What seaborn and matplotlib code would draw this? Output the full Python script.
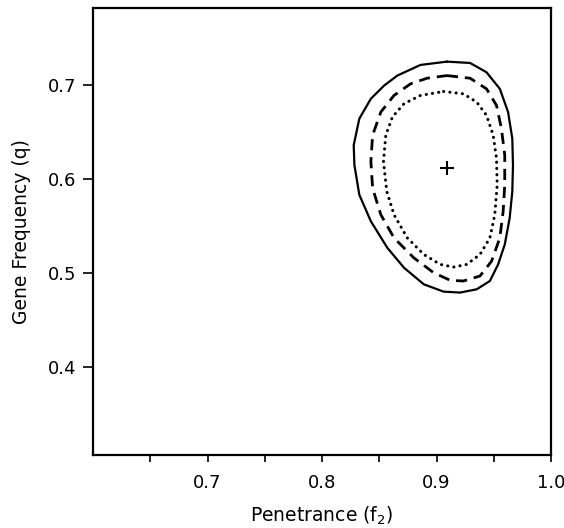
import pandas as pd
import matplotlib
matplotlib.use('Agg')
import matplotlib.pyplot as plt
import seaborn as sns

# Contour points (penetrance f2, gene frequency q)
solid_f2 = [0.9091, 0.9293, 0.9437, 0.9553, 0.9625, 0.9662, 0.9668, 0.9662, 0.9639, 0.9596,
            0.9538, 0.9466, 0.9351, 0.9206, 0.9062, 0.8889, 0.8716, 0.8571, 0.8427, 0.8326,
            0.8283, 0.8277, 0.8326, 0.8427, 0.8543, 0.8658, 0.8860, 0.9091]
solid_q = [0.7250, 0.7236, 0.7137, 0.6961, 0.6715, 0.6433, 0.6151, 0.5870, 0.5588, 0.5306,
           0.5095, 0.4919, 0.4831, 0.4796, 0.4806, 0.4884, 0.5060, 0.5271, 0.5553, 0.5835,
           0.6151, 0.6363, 0.6644, 0.6856, 0.6996, 0.7102, 0.7215, 0.7250]

dashed_f2 = [0.9091, 0.9293, 0.9437, 0.9524, 0.9567, 0.9596, 0.9596, 0.9582, 0.9553, 0.9481,
             0.9380, 0.9235, 0.9120, 0.8975, 0.8802, 0.8629, 0.8514, 0.8442, 0.8427, 0.8442,
             0.8514, 0.8629, 0.8773, 0.8918, 0.9091]
dashed_q = [0.7102, 0.7074, 0.6961, 0.6785, 0.6539, 0.6257, 0.5940, 0.5658, 0.5377, 0.5130,
            0.4972, 0.4919, 0.4926, 0.5007, 0.5165, 0.5377, 0.5623, 0.5905, 0.6187, 0.6468,
            0.6715, 0.6891, 0.7014, 0.7074, 0.7102]

dotted_f2 = [0.9062, 0.9235, 0.9351, 0.9437, 0.9495, 0.9524, 0.9530, 0.9509, 0.9466, 0.9380,
             0.9264, 0.9149, 0.9033, 0.8889, 0.8745, 0.8629, 0.8566, 0.8537, 0.8557, 0.8615,
             0.8716, 0.8860, 0.9062]
dotted_q = [0.6933, 0.6908, 0.6820, 0.6680, 0.6468, 0.6222, 0.5940, 0.5623, 0.5377, 0.5201,
            0.5095, 0.5067, 0.5095, 0.5201, 0.5377, 0.5623, 0.5870, 0.6187, 0.6468, 0.6662,
            0.6803, 0.6891, 0.6933]

# maximum likelihood estimate
mle_f2 = [0.909]
mle_q = [0.612]

x_major = [0.7, 0.8, 0.9, 1.0]
x_minor = [0.65, 0.75, 0.85, 0.95]
y_major = [0.4, 0.5, 0.6, 0.7]

sns.set_style('ticks', {'axes.edgecolor': 'black', 'xtick.color': 'black',
                        'ytick.color': 'black', 'text.color': 'black',
                        'axes.labelcolor': 'black'})
plt.rcParams['font.family'] = ['DejaVu Sans']

fig = plt.figure(figsize=(5.64, 5.28), dpi=100)
ax = fig.add_axes([93 / 564, 1 - 455 / 528, (551 - 93) / 564, (455 - 8) / 528])

sns.lineplot(x=solid_f2, y=solid_q, sort=False, estimator=None, ax=ax,
             color='black', linewidth=1.6, solid_joinstyle='round')
sns.lineplot(x=dashed_f2, y=dashed_q, sort=False, estimator=None, ax=ax,
             color='black', linewidth=2.0, linestyle=(0, (4, 2.5)),
             dash_joinstyle='round')
sns.lineplot(x=dotted_f2, y=dotted_q, sort=False, estimator=None, ax=ax,
             color='black', linewidth=2.2, linestyle=(0, (0.05, 2.0)),
             dash_capstyle='round')
sns.scatterplot(x=mle_f2, y=mle_q, marker='+', s=110, color='black',
                linewidth=1.5, ax=ax)

ax.set_xlim(0.6, 1.0)
ax.set_ylim(0.307, 0.782)
ax.set_xticks(x_major)
ax.set_xticks(x_minor, minor=True)
ax.set_xticklabels(['0.7', '0.8', '0.9', '1.0'])
ax.set_yticks(y_major)
ax.set_yticklabels(['0.4', '0.5', '0.6', '0.7'])

ax.tick_params(axis='x', which='both', length=5, width=1.2, pad=9, labelsize=13,
               colors='black')
ax.tick_params(axis='y', which='major', length=7, width=1.2, pad=5, labelsize=13,
               colors='black')
for s in ax.spines.values():
    s.set_linewidth(1.6)
    s.set_color('black')
    s.set_visible(True)

ax.set_xlabel('Penetrance (f$_\\mathregular{2}$)', fontsize=13.5, labelpad=9)
ax.set_ylabel('Gene Frequency (q)', fontsize=13.5, labelpad=12)

fig.savefig('out.png', dpi=100)
